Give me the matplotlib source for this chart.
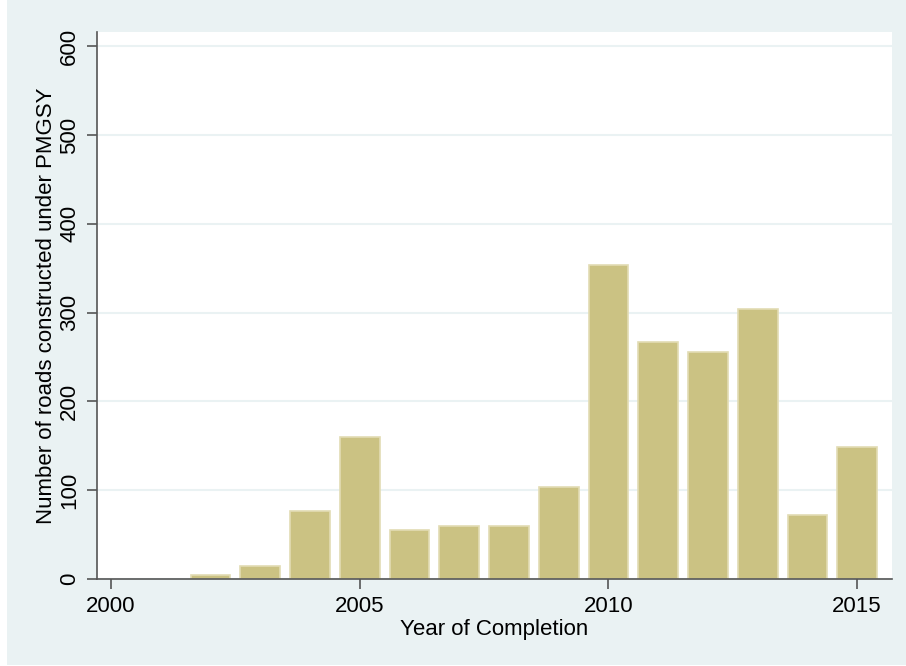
import matplotlib
matplotlib.use("Agg")
import matplotlib.pyplot as plt
from matplotlib.patches import Rectangle

years = [2002, 2003, 2004, 2005, 2006, 2007, 2008, 2009, 2010, 2011, 2012, 2013, 2014, 2015]
roads = [5, 15, 77, 160, 55, 60, 60, 104, 354, 267, 256, 304, 72, 149]
xticks = [2000, 2005, 2010, 2015]
yticks = [0, 100, 200, 300, 400, 500, 600]

plt.rcParams['font.family'] = ['Liberation Sans', 'DejaVu Sans']

W, H = 906, 666
fig = plt.figure(figsize=(W / 100, H / 100), dpi=100, facecolor='white')
fig.patches.append(Rectangle((7 / W, 1 / H), (W - 7) / W, (H - 1) / H,
                             transform=fig.transFigure, facecolor='#EAF2F3',
                             edgecolor='none', zorder=-10))

ax = fig.add_axes([97 / W, 1 - 579 / H, (892 - 97) / W, (579 - 32) / H])
ax.set_facecolor('white')
ax.bar(years, roads, width=0.8, color='#CBC283', edgecolor='#E2DCB4',
       linewidth=1.2, zorder=3)

ax.set_xlim(1999.72, 2015.70)
ax.set_ylim(0, 616)
ax.set_xticks(xticks)
ax.set_yticks(yticks)
ax.set_yticklabels([str(v) for v in yticks], rotation=90, va='center')
ax.yaxis.grid(True, color='#EAF2F3', linewidth=1.5, zorder=0)

for s in ['top', 'right']:
    ax.spines[s].set_visible(False)
for s in ['left', 'bottom']:
    ax.spines[s].set_color('#555555')
    ax.spines[s].set_linewidth(1.2)
    ax.spines[s].set_zorder(4)

ax.tick_params(axis='both', direction='out', length=7, width=1.2, color='#555555',
               labelsize=16, labelcolor='black', pad=5)
ax.set_xlabel('Year of Completion', fontsize=16, labelpad=2)
ax.set_ylabel('Number of roads constructed under PMGSY', fontsize=16, labelpad=2)

fig.savefig('out.png', dpi=100, facecolor=fig.get_facecolor())
